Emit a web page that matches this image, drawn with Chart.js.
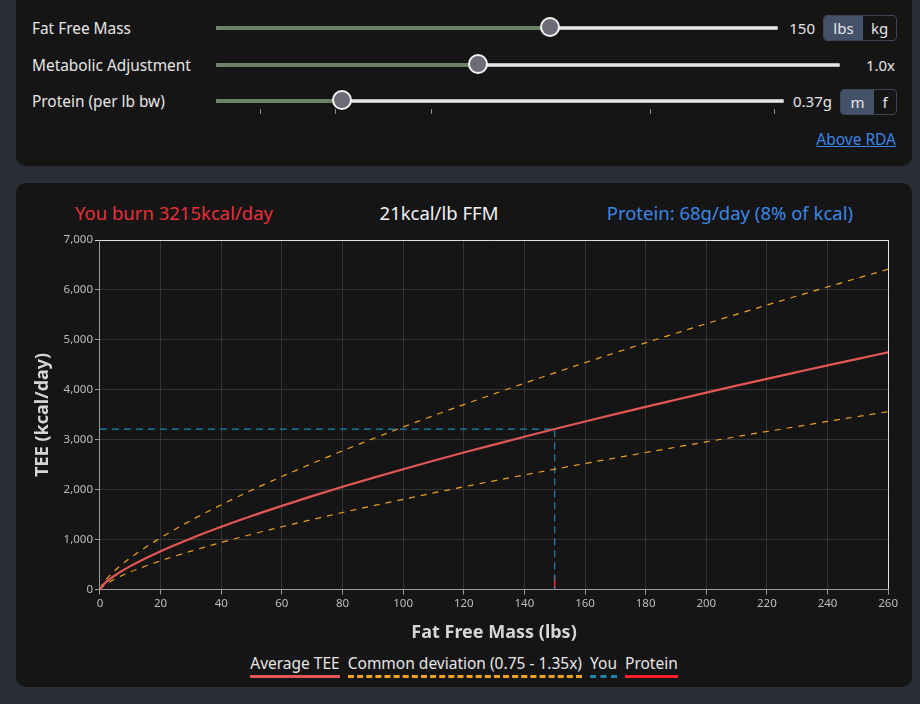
<!DOCTYPE html>
<html>
<head>
<meta charset="utf-8">
<script src="https://cdn.jsdelivr.net/npm/chart.js@4.4.1/dist/chart.umd.min.js"></script>
<style>
  body { margin: 0; background: #282d36; font-family: "Noto Sans", sans-serif; color: #e6e6e6; width: 920px; height: 704px; overflow: hidden; position: relative; }
  .card { position: absolute; left: 16px; width: 896px; background: #151515; border-radius: 10px; }
  #controls { top: -12px; height: 178px; }
  #chartCard { top: 183px; height: 504px; }
  .lbl { position: absolute; left: 16px; font-size: 15.4px; line-height: 20px; }
  .track { position: absolute; left: 200px; height: 4px; background: #e6e6ea; border-radius: 3px; box-shadow: 0 0 0 1px #bbb inset; }
  .fill { position: absolute; left: 0; top: 0; height: 4px; background: #6a8165; border-radius: 3px; }
  .thumb { position: absolute; top: -9px; width: 16px; height: 16px; margin-left: -10px; border-radius: 50%; background: #6c6c78; border: 2px solid #f2f2f2; }
  .val { position: absolute; font-size: 15px; line-height: 20px; text-align: right; }
  .toggle { position: absolute; height: 24px; border: 1px solid #3c4656; border-radius: 4px; display: flex; overflow: hidden; font-size: 15px; line-height: 24px; }
  .toggle span { display: block; text-align: center; }
  .toggle .on { background: #435268; }
  .tick { position: absolute; width: 1px; height: 5px; background: #8a8a8a; }
  #rda { position: absolute; right: 16px; top: 140px; font-size: 15.5px; color: #3a86e8; text-decoration: underline; }
  .head { position: absolute; top: 18px; font-size: 18.5px; line-height: 24px; white-space: nowrap; }
  #box { position: absolute; left: 8px; top: 45px; width: 876px; height: 420px; }
  #legend { position: absolute; left: 0; width: 896px; top: 469px; text-align: center; font-size: 15.5px; }
  #legend span { display: inline-block; margin: 0 4px; padding-bottom: 1px; color: #e6e6e6; }
</style>
</head>
<body>
<div class="card" id="controls">
  <div class="lbl" style="top:31px">Fat Free Mass</div>
  <div class="track" style="top:38px;width:562px"><div class="fill" style="width:334px"></div><div class="thumb" style="left:334px"></div></div>
  <div class="val" style="top:30px;left:760px;width:39px">150</div>
  <div class="toggle" style="top:27px;left:807px"><span class="on" style="width:39px">lbs</span><span style="width:33px">kg</span></div>

  <div class="lbl" style="top:68px">Metabolic Adjustment</div>
  <div class="track" style="top:75px;width:624px"><div class="fill" style="width:262px"></div><div class="thumb" style="left:262px"></div></div>
  <div class="val" style="top:67px;left:820px;width:59px">1.0x</div>

  <div class="lbl" style="top:104px">Protein (per lb bw)</div>
  <div class="track" style="top:111px;width:568px"><div class="fill" style="width:126px"></div><div class="thumb" style="left:126px"></div></div>
  <div class="val" style="top:103px;left:766px;width:50px">0.37g</div>
  <div class="toggle" style="top:101px;left:824px"><span class="on" style="width:33px">m</span><span style="width:22px">f</span></div>
  <div class="tick" style="left:244px;top:121px"></div>
  <div class="tick" style="left:319px;top:121px"></div>
  <div class="tick" style="left:415px;top:121px"></div>
  <div class="tick" style="left:634px;top:121px"></div>
  <div class="tick" style="left:758px;top:121px"></div>
  <div id="rda">Above RDA</div>
</div>

<div class="card" id="chartCard">
  <div class="head" style="left:59px;color:#e8303b">You burn 3215kcal/day</div>
  <div class="head" style="left:423px;transform:translateX(-50%);color:#f2f2f2">21kcal/lb FFM</div>
  <div class="head" style="right:59px;color:#3c87e6">Protein: 68g/day (8% of kcal)</div>
  <div id="box"><canvas id="teeChart"></canvas></div>
  <div id="legend"></div>
</div>

<script>
// fat free mass (lbs) and TEE
const ffm = [0, 1, 2, 5, 10, 20, 30, 40, 50, 60, 70, 80, 90, 100, 110, 120, 130, 140, 150, 160, 170, 180, 190, 200, 210, 220, 230, 240, 250, 260];
const avgTee = [0, 90, 150, 287, 470, 769, 1025, 1258, 1474, 1677, 1871, 2058, 2237, 2411, 2580, 2744, 2904, 3061, 3215, 3366, 3514, 3660, 3802, 3944, 4083, 4220, 4355, 4489, 4621, 4751];
const highTee = [0, 122, 203, 387, 635, 1038, 1384, 1698, 1990, 2264, 2526, 2778, 3020, 3255, 3483, 3704, 3920, 4132, 4340, 4544, 4744, 4941, 5133, 5324, 5512, 5697, 5879, 6060, 6238, 6414];
const lowTee = [0, 68, 113, 215, 353, 577, 769, 944, 1106, 1258, 1403, 1544, 1678, 1808, 1935, 2058, 2178, 2296, 2411, 2525, 2636, 2745, 2852, 2958, 3062, 3165, 3266, 3367, 3466, 3563];

const youX = [0, 150, 150];
const youY = [3215, 3215, 0];
const proteinX = [150, 150];
const proteinY = [0, 272];

const xTicks = [0, 20, 40, 60, 80, 100, 120, 140, 160, 180, 200, 220, 240, 260];
const yTicks = [0, 1000, 2000, 3000, 4000, 5000, 6000, 7000];

function pts(xs, ys) {
  return xs.map((x, i) => ({ x: x, y: ys[i] }));
}

const font = "'Noto Sans', sans-serif";

let chart = new Chart(document.getElementById("teeChart"), {
  type: "line",
  data: {
    datasets: [
      { label: "Average TEE", data: pts(ffm, avgTee), borderColor: "#e35656", borderWidth: 2.2, cubicInterpolationMode: "monotone" },
      { label: "Common deviation (0.75 - 1.35x)", data: pts(ffm, highTee), borderColor: "#f0a21e", borderWidth: 1.2, borderDash: [6, 6], cubicInterpolationMode: "monotone" },
      { label: "Common deviation (0.75 - 1.35x)", data: pts(ffm, lowTee), borderColor: "#f0a21e", borderWidth: 1.2, borderDash: [6, 6], cubicInterpolationMode: "monotone", noLegend: true },
      { label: "You", data: pts(youX, youY), borderColor: "#1f86b0", borderWidth: 1.2, borderDash: [7, 5] },
      { label: "Protein", data: pts(proteinX, proteinY), borderColor: "#ff1e2a", borderWidth: 1.6 }
    ]
  },
  options: {
    responsive: true,
    maintainAspectRatio: false,
    animation: false,
    elements: { point: { radius: 0 } },
    layout: { padding: { top: 12, right: 3, left: 4 } },
    plugins: { legend: { display: false }, tooltip: { enabled: false } },
    scales: {
      x: {
        type: "linear",
        min: 0,
        max: 260,
        afterBuildTicks: (s) => { s.ticks = xTicks.map(v => ({ value: v })); },
        ticks: { color: "#bdbdbd", font: { family: font, size: 11.5 }, padding: 2 },
        grid: { color: (c) => c.tick && c.tick.value === 260 ? "#e0e0e0" : "#343434", tickColor: "#999", tickLength: 5 },
        border: { color: "#9a9a9a" },
        title: { display: true, text: "Fat Free Mass (lbs)", color: "#d6d6d6", font: { family: font, size: 18, weight: "bold" }, padding: { top: 10 } }
      },
      y: {
        min: 0,
        max: 7000,
        afterBuildTicks: (s) => { s.ticks = yTicks.map(v => ({ value: v })); },
        ticks: { color: "#bdbdbd", font: { family: font, size: 11.5 }, padding: 2 },
        grid: { color: (c) => c.tick && c.tick.value === 7000 ? "#e0e0e0" : "#343434", tickColor: (c) => c.tick && c.tick.value === 7000 ? "#e0e0e0" : "#999", tickLength: 5 },
        border: { color: "#9a9a9a" },
        title: { display: true, text: "TEE (kcal/day)", color: "#d6d6d6", font: { family: font, size: 18, weight: "bold" }, padding: { bottom: 8 } }
      }
    }
  }
});

// html legend with underline swatches
const legend = document.getElementById("legend");
chart.data.datasets.forEach(ds => {
  if (ds.noLegend) return;
  let span = document.createElement("span");
  span.textContent = ds.label;
  let style = ds.borderDash ? "dashed" : "solid";
  span.style.borderBottom = "3px " + style + " " + ds.borderColor;
  legend.appendChild(span);
});
</script>
</body>
</html>
